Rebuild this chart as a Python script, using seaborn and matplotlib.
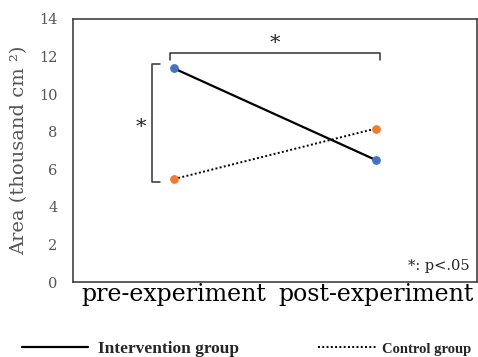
import numpy as np
import pandas as pd
import matplotlib
matplotlib.use("Agg")
import matplotlib.pyplot as plt
import seaborn as sns
from matplotlib.lines import Line2D

phases = ["pre-experiment", "post-experiment"]
intervention = [11.37, 6.49]
control = [5.48, 8.17]

sns.set_style("white")
plt.rcParams['font.family'] = ['DejaVu Serif']

df = pd.DataFrame({
    "x": [0, 1, 0, 1],
    "area": intervention + control,
    "group": ["Intervention group"] * 2 + ["Control group"] * 2,
})

fig = plt.figure(figsize=(4.78, 3.57), dpi=100)
ax = fig.add_axes([73 / 478, 1 - 282 / 357, 404 / 478, 263 / 357])

sub = df[df.group == "Intervention group"]
sns.lineplot(data=sub, x="x", y="area", color="black", lw=1.6, ax=ax)
sub = df[df.group == "Control group"]
sns.lineplot(data=sub, x="x", y="area", color="black", lw=1.4,
             linestyle=(0, (1, 1.2)), ax=ax)
ax.scatter([0, 1], intervention, color="#4472C4", s=28, zorder=3)
ax.scatter([0, 1], control, color="#ED7D31", s=28, zorder=3)

ax.set_xlim(-0.5, 1.5)
ax.set_ylim(0, 14)
ax.set_yticks(range(0, 15, 2))
ax.set_xticks([0, 1])
ax.set_xticklabels(phases, fontsize=17, color="black")
ax.tick_params(axis="y", labelsize=10.5, colors="#555555", length=0, pad=11)
ax.tick_params(axis="x", length=0, pad=1)
ax.set_xlabel("")
ax.set_ylabel("Area (thousand cm ²)", fontsize=14, color="#555555", labelpad=8)
for s in ax.spines.values():
    s.set_color("#333333")
    s.set_linewidth(1.1)

# significance brackets
ax.plot([-0.02, -0.02, 1.02, 1.02], [11.8, 12.2, 12.2, 11.8], color="#333333", lw=1.1)
ax.text(0.5, 12.2, "*", ha="center", va="bottom", fontsize=15)
ax.plot([-0.07, -0.11, -0.11, -0.07], [11.6, 11.6, 5.3, 5.3], color="#333333", lw=1.1)
ax.text(-0.14, 8.2, "*", ha="right", va="center", fontsize=15)
ax.text(1.465, 0.5, "*: p<.05", ha="right", va="bottom", fontsize=10.5)

# legend entries, one per group
leg_font = ['Liberation Serif', 'DejaVu Serif']
solid = Line2D([], [], color="black", lw=1.6)
dotted = Line2D([], [], color="black", lw=1.4, linestyle=(0, (1, 1.2)))
fig.legend([solid], ["Intervention group"], loc="center left",
           bbox_to_anchor=(22 / 478, 1 - 349 / 357), frameon=False,
           prop={"family": leg_font, "size": 12.5, "weight": "bold"},
           handlelength=3.8, handletextpad=0.6, borderpad=0, borderaxespad=0)
fig.legend([dotted], ["Control group"], loc="center left",
           bbox_to_anchor=(318 / 478, 1 - 349 / 357), frameon=False,
           prop={"family": leg_font, "size": 10.5, "weight": "bold"},
           handlelength=4.0, handletextpad=0.4, borderpad=0, borderaxespad=0)

fig.savefig("out.png", dpi=100)
